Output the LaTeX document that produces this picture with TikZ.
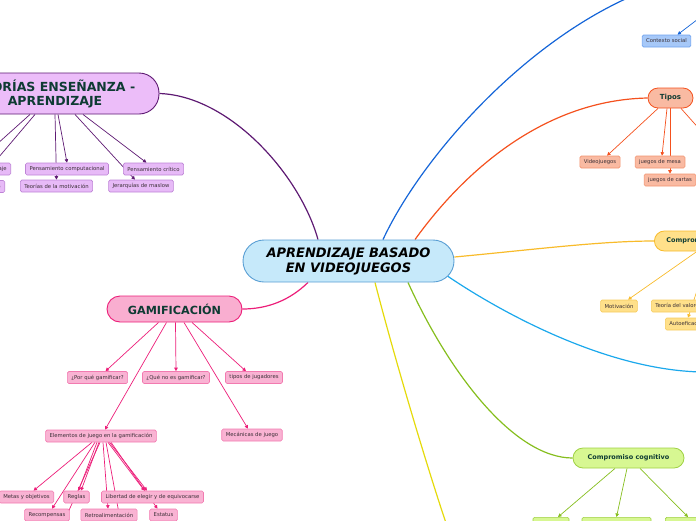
\documentclass[tikz,border=0pt]{standalone}
\usepackage{fontspec}
\setmainfont{DejaVu Sans}
\usetikzlibrary{arrows.meta}
\pgfdeclarelayer{bg}
\pgfsetlayers{bg,main}
\definecolor{purpleD}{HTML}{5E1A73}
\definecolor{purpleF}{HTML}{ECBDF9}
\definecolor{purpleL}{HTML}{E7BAF7}
\definecolor{purpleB}{HTML}{BE84D6}
\definecolor{pinkD}{HTML}{EC1E79}
\definecolor{pinkF}{HTML}{F9AED0}
\definecolor{pinkL}{HTML}{F9B3D3}
\definecolor{pinkB}{HTML}{F27AB0}
\definecolor{orangeD}{HTML}{F4511E}
\definecolor{orangeF}{HTML}{F9BAA2}
\definecolor{orangeB}{HTML}{F2936F}
\definecolor{blueD}{HTML}{1565D8}
\definecolor{blueF}{HTML}{A6C8F8}
\definecolor{blueB}{HTML}{6FA2EE}
\definecolor{amberD}{HTML}{F8BB2A}
\definecolor{amberF}{HTML}{FFE08A}
\definecolor{amberB}{HTML}{F6CB5D}
\definecolor{cyanD}{HTML}{1BA8EC}
\definecolor{greenD}{HTML}{86BE1E}
\definecolor{greenF}{HTML}{D7F792}
\definecolor{greenB}{HTML}{9FD143}
\definecolor{yellowD}{HTML}{E5DA0B}
\definecolor{centerF}{HTML}{C6E9FA}
\definecolor{centerB}{HTML}{5A9FD4}
\definecolor{topicT}{HTML}{0E3B33}
\definecolor{lblT}{HTML}{3A2F36}
\tikzset{
  lbl/.style={draw, rounded corners=1.5pt, line width=0.6pt, minimum height=12pt,
    inner xsep=4pt, inner ysep=0pt, font=\fontsize{5.3}{6}\selectfont, text=lblT},
  pl/.style={fill=purpleL, draw=purpleB},
  kl/.style={fill=pinkL, draw=pinkB},
  ol/.style={fill=orangeF, draw=orangeB},
  bl/.style={fill=blueF, draw=blueB},
  al/.style={fill=amberF, draw=amberB},
  gl/.style={fill=greenF, draw=greenB},
  topic/.style={draw, line width=0.9pt, inner sep=0pt, align=center, text=topicT,
    font=\bfseries\fontsize{12.5}{14}\selectfont},
  subtopic/.style={draw, line width=0.8pt, inner sep=0pt, align=center, text=topicT,
    font=\bfseries\fontsize{6.5}{8}\selectfont, minimum height=20pt, rounded corners=10pt},
  branch/.style={line width=1.2pt},
  arr/.style={-{Triangle[length=3.5pt,width=3.5pt]}, line width=0.7pt}
}
\begin{document}
\begin{tikzpicture}[x=1pt,y=-1pt]
\useasboundingbox (0,0) rectangle (696,520);
\clip (0,0) rectangle (696,520);

% central
\node[draw=centerB, fill=centerF, line width=0.9pt, minimum width=211pt, minimum height=42pt,
  rounded corners=21pt, inner sep=0pt, align=center, text=black,
  font=\bfseries\itshape\fontsize{13}{15}\selectfont] (c) at (348.5,261)
  {APRENDIZAJE BASADO\\EN VIDEOJUEGOS};

% Teorias
\node[topic, fill=purpleF, draw=purpleD, minimum width=208pt, minimum height=41pt,
  rounded corners=20pt] (teo) at (55,93.5) {TEORÍAS ENSEÑANZA -\\APRENDIZAJE};
\node[lbl, pl] (pc) at (67,169) {Pensamiento computacional};
\node[lbl, pl] (tm) at (56.5,186) {Teorías de la motivación};
\node[lbl, pl] (pcr) at (153.5,169) {Pensamiento crítico};
\node[lbl, pl] (jm) at (141,186) {Jerarquías de maslow};
\node[lbl, pl, anchor=east] (ta) at (11,169) {Teorías del aprendizaje};
\node[lbl, pl, anchor=east] (co) at (5,186.5) {Constructivismo};

% Contexto social
\node[lbl, bl] (cs) at (666.5,41) {Contexto social};
\coordinate (csFrom) at (702,16);
\coordinate (bTop) at (632,-4);

% Tipos
\node[subtopic, fill=orangeF, draw=orangeD, minimum width=45pt,
  font=\bfseries\fontsize{7}{8}\selectfont] (tipos) at (670.5,98) {Tipos};
\node[lbl, ol] (vj) at (600,162) {Videojuegos};
\node[lbl, ol] (jme) at (660,162) {juegos de mesa};
\node[lbl, ol] (jc) at (670,180) {juegos de cartas};
\coordinate (tOut) at (702,132);

% Compromiso afectivo
\node[subtopic, fill=amberF, draw=amberD, anchor=west, inner xsep=12pt] (ca) at (654,241) {Compromiso afectivo};
\node[lbl, al] (mot) at (619,306) {Motivación};
\node[lbl, al, anchor=west] (tv) at (651,306) {Teoría del valor-expectativa};
\node[lbl, al, anchor=west] (ae) at (665,324) {Autoeficacia};

% cyan / yellow ends
\coordinate (cyEnd) at (702,372);
\coordinate (yEnd) at (447,526);

% Compromiso cognitivo
\node[subtopic, fill=greenF, draw=greenB, minimum width=111pt] (cc) at (628.5,458) {Compromiso cognitivo};
\node[lbl, gl, minimum width=36pt, anchor=north] (g1) at (551,517) {};
\node[lbl, gl, minimum width=69pt, anchor=north] (g2) at (616.5,517) {};
\node[lbl, gl, minimum width=40pt, anchor=north west] (g3) at (665,517) {};

% Gamificacion
\node[topic, fill=pinkF, draw=pinkD, minimum width=135pt, minimum height=26pt,
  rounded corners=13pt, font=\bfseries\fontsize{11.2}{13}\selectfont] (gam) at (174.5,309) {GAMIFICACIÓN};
\node[lbl, kl] (pq) at (97.5,377.5) {¿Por qué gamificar?};
\node[lbl, kl] (qn) at (176,377.5) {¿Qué no es gamificar?};
\node[lbl, kl] (tj) at (254,377.5) {tipos de jugadores};
\node[lbl, kl] (ej) at (101,436) {Elementos de juego en la gamificación};
\node[lbl, kl] (mj) at (252,435) {Mecánicas de juego};
\node[lbl, kl] (mo) at (26.5,497) {Metas y objetivos};
\node[lbl, kl] (rg) at (76.5,497) {Reglas};
\node[lbl, kl] (lb) at (152.5,497) {Libertad de elegir y de equivocarse};
\node[lbl, kl] (rc) at (47,515) {Recompensas};
\node[lbl, kl] (rt) at (109,515) {Retroalimentación};
\node[lbl, kl] (es) at (163.5,515) {Estatus};
\coordinate (eOut1) at (60,530);
\coordinate (eOut2) at (122,530);

\begin{pgfonlayer}{bg}
% main branches
\draw[branch, purpleD] (teo.east) .. controls (230,96) and (300,175) .. ([xshift=-30.5pt]c.north);
\draw[branch, blueD] ([xshift=34.5pt]c.north) .. controls (420,160) and (520,45) .. (bTop);
\draw[branch, orangeD] ([xshift=66.5pt]c.north) .. controls (465,170) and (545,100) .. (tipos.west);
\draw[branch, amberD] ([yshift=4pt]c.east) .. controls (530,250) and (600,241) .. (ca.west);
\draw[branch, cyanD] ([xshift=-7pt,yshift=-15pt]c.east) .. controls (490,305) and (600,370) .. (cyEnd);
\draw[branch, greenD] ([xshift=59.5pt]c.south) .. controls (450,375) and (515,458) .. (cc.west);
\draw[branch, yellowD] ([xshift=26.5pt]c.south) .. controls (395,360) and (428,470) .. (yEnd);
\draw[branch, pinkD] ([xshift=-40.5pt]c.south) .. controls (290,300) and (268,309) .. (gam.east);

% Teorias children
\draw[arr, purpleD] ([xshift=-25pt]teo.south) -- (ta.north);
\draw[arr, purpleD] ([xshift=-20pt]teo.south) -- (co.north);
\draw[arr, purpleD] (teo.south) -- (tm.north);
\draw[arr, purpleD] ([xshift=3pt]teo.south) -- (pc.north);
\draw[arr, purpleD] ([xshift=20pt]teo.south) -- ([xshift=-6pt]jm.north);
\draw[arr, purpleD] ([xshift=28pt]teo.south) -- ([xshift=-7pt]pcr.north);

% Contexto social
\draw[arr, blueD] (csFrom) -- ([xshift=11pt]cs.north);

% Tipos children
\draw[arr, orangeD] ([xshift=-12.5pt]tipos.south) -- ([xshift=7pt]vj.north);
\draw[arr, orangeD] ([xshift=-3.5pt]tipos.south) -- ([xshift=2pt]jme.north);
\draw[arr, orangeD] ([xshift=-0.5pt]tipos.south) -- (jc.north);
\draw[line width=0.7pt, orangeD] ([xshift=10.5pt]tipos.south) -- (tOut);

% Compromiso afectivo children
\draw[arr, amberD] ([xshift=43pt]ca.south west) -- ([xshift=9pt]mot.north);
\draw[arr, amberD] ([xshift=56pt]ca.south west) -- ([xshift=23pt]ae.north west);

% Compromiso cognitivo children
\draw[arr, greenD] ([xshift=-13.5pt]cc.south) -- ([xshift=7pt]g1.north);
\draw[arr, greenD] ([xshift=-1.5pt]cc.south) -- (g2.north);
\draw[arr, greenD] ([xshift=11.5pt]cc.south) -- ([xshift=23pt]g3.north west);

% Gamificacion children
\draw[arr, pinkD] ([xshift=-16pt]gam.south) -- ([xshift=8pt]pq.north);
\draw[arr, pinkD] ([xshift=-8pt]gam.south) -- ([xshift=4pt]ej.north);
\draw[arr, pinkD] ([xshift=1pt]gam.south) -- (qn.north);
\draw[arr, pinkD] ([xshift=9.5pt]gam.south) -- ([xshift=-4pt]mj.north);
\draw[arr, pinkD] ([xshift=17.5pt]gam.south) -- ([xshift=-8pt]tj.north);

% Elementos children
\draw[arr, pinkD] ([xshift=-9pt]ej.south) -- ([xshift=7pt]mo.north);
\draw[arr, pinkD] ([xshift=-6pt]ej.south) -- ([xshift=5pt]rc.north);
\draw[arr, pinkD] ([xshift=-4pt]ej.south) -- ([xshift=2pt]rg.north);
\draw[arr, pinkD] ([xshift=-2pt]ej.south) -- ([xshift=4.5pt]rg.north);
\draw[line width=0.7pt, pinkD] ([xshift=-1pt]ej.south) -- (eOut1);
\draw[arr, pinkD] ([xshift=2pt]ej.south) -- ([xshift=-1pt]rt.north);
\draw[line width=0.7pt, pinkD] ([xshift=5pt]ej.south) -- (eOut2);
\draw[arr, pinkD] ([xshift=7pt]ej.south) -- ([xshift=-8pt]lb.north);
\draw[arr, pinkD] ([xshift=8.5pt]ej.south) -- ([xshift=-5.5pt]lb.north);
\draw[arr, pinkD] ([xshift=10pt]ej.south) -- ([xshift=-6pt]es.north);
\end{pgfonlayer}
\end{tikzpicture}
\end{document}
